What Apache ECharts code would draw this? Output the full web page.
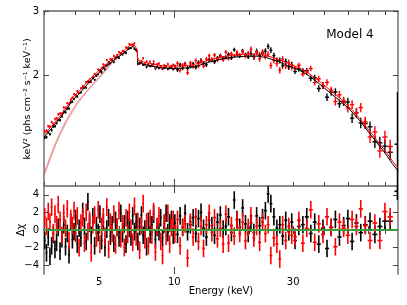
<!DOCTYPE html>
<html><head><meta charset="utf-8">
<script src="https://cdn.jsdelivr.net/npm/echarts@6/dist/echarts.min.js"></script>
<style>html,body{margin:0;padding:0;background:#fff}#c{width:407px;height:305px}</style>
</head><body><div id="c"></div>
<script>
// Bin centre energies (keV), shared by both detectors
const energy = [3.02,3.07,3.12,3.17,3.22,3.27,3.32,3.37,3.42,3.48,
 3.54,3.60,3.66,3.72,3.78,3.84,3.90,3.96,4.02,4.08,
 4.15,4.22,4.29,4.36,4.43,4.50,4.57,4.64,4.71,4.79,
 4.87,4.95,5.03,5.11,5.19,5.27,5.36,5.45,5.54,5.63,
 5.72,5.81,5.90,6.00,6.10,6.20,6.30,6.40,6.50,6.60,
 6.70,6.81,6.92,7.03,7.14,7.26,7.38,7.50,7.62,7.74,
 7.87,8.00,8.13,8.26,8.40,8.54,8.68,8.82,8.97,9.12,
 9.27,9.42,9.58,9.74,9.90,
 10.05,10.3,10.55,10.8,11.05,11.3,11.6,11.9,12.2,12.5,
 12.8,13.1,13.45,13.8,14.15,14.5,14.9,15.3,15.7,16.1,
 16.5,16.95,17.4,17.85,18.3,18.8,19.3,19.8,20.3,20.85,
 21.4,22.0,22.6,23.2,23.8,24.4,25.1,25.8,26.5,27.2,
 28.0,28.8,29.6,
 30.5,31.6,32.8,34.0,35.3,36.6,38.0,39.5,41.0,42.6,
 44.3,46.0,47.8,49.7,51.7,53.8,56.0,58.4,61.0,63.8,
 66.8,70.0,73.5];
const fluxBlack = [1.356,1.359,1.400,1.384,1.418,1.454,1.454,1.483,1.514,1.511,
 1.548,1.597,1.587,1.625,1.626,1.691,1.697,1.728,1.766,1.751,
 1.792,1.799,1.855,1.855,1.854,1.928,1.920,1.923,1.968,1.948,
 1.996,2.016,2.069,2.041,2.104,2.078,2.132,2.172,2.159,2.200,
 2.176,2.238,2.245,2.236,2.300,2.284,2.321,2.304,2.369,2.373,
 2.377,2.426,2.367,2.344,2.149,2.166,2.177,2.140,2.142,2.110,
 2.146,2.122,2.130,2.149,2.092,2.115,2.097,2.122,2.086,2.101,
 2.120,2.085,2.103,2.109,2.080,
 2.114,2.075,2.138,2.099,2.152,2.094,2.123,2.152,2.108,2.169,
 2.200,2.161,2.141,2.208,2.205,2.182,2.232,2.266,2.228,2.242,
 2.285,2.236,2.352,2.286,2.264,2.335,2.281,2.248,2.294,2.247,
 2.327,2.271,2.304,2.332,2.402,2.346,2.268,2.198,2.200,2.131,
 2.186,2.112,2.138,
 2.052,2.083,2.060,2.063,1.966,1.973,1.844,1.878,1.746,1.802,
 1.805,1.676,1.697,1.694,1.530,1.583,1.486,1.480,1.450,1.320,
 1.311,1.284,1.236];
const fluxRed = [1.409,1.416,1.456,1.452,1.493,1.478,1.524,1.530,1.568,1.576,
 1.576,1.637,1.636,1.683,1.671,1.721,1.742,1.782,1.771,1.816,
 1.793,1.847,1.874,1.860,1.922,1.916,1.952,1.928,1.986,2.020,
 2.009,2.078,2.045,2.097,2.145,2.131,2.204,2.147,2.217,2.217,
 2.262,2.226,2.279,2.319,2.288,2.335,2.313,2.387,2.377,2.438,
 2.429,2.414,2.449,2.352,2.219,2.155,2.190,2.230,2.154,2.186,
 2.133,2.183,2.142,2.186,2.102,2.148,2.158,2.111,2.086,2.134,
 2.110,2.151,2.095,2.126,2.140,
 2.108,2.159,2.069,2.132,2.149,2.037,2.165,2.119,2.198,2.124,
 2.185,2.125,2.216,2.265,2.214,2.275,2.208,2.254,2.210,2.317,
 2.228,2.293,2.262,2.316,2.276,2.320,2.257,2.302,2.360,2.255,
 2.310,2.224,2.316,2.256,2.288,2.131,2.200,2.156,2.069,2.218,
 2.123,2.170,2.108,
 2.093,2.135,2.018,2.045,2.091,1.915,1.959,1.876,1.916,1.827,
 1.700,1.773,1.707,1.631,1.667,1.586,1.636,1.495,1.360,1.404,
 1.246,1.360,1.281];
const fluxErr = [0.012,0.012,0.012,0.012,0.012,0.012,0.012,0.012,0.012,0.012,
 0.012,0.012,0.012,0.012,0.012,0.012,0.012,0.012,0.012,0.012,
 0.012,0.012,0.012,0.012,0.012,0.012,0.012,0.012,0.012,0.012,
 0.012,0.012,0.016,0.016,0.016,0.016,0.016,0.016,0.016,0.016,
 0.016,0.016,0.016,0.016,0.016,0.016,0.016,0.016,0.016,0.016,
 0.016,0.016,0.016,0.016,0.016,0.016,0.016,0.016,0.016,0.016,
 0.016,0.016,0.016,0.016,0.016,0.016,0.016,0.016,0.016,0.016,
 0.016,0.016,0.016,0.016,0.016,
 0.030,0.030,0.030,0.030,0.030,0.030,0.030,0.030,0.030,0.030,
 0.030,0.030,0.030,0.030,0.030,0.030,0.030,0.030,0.030,0.030,
 0.030,0.030,0.030,0.030,0.030,0.030,0.030,0.030,0.042,0.042,
 0.042,0.042,0.042,0.042,0.042,0.042,0.042,0.042,0.042,0.042,
 0.042,0.042,0.042,
 0.032,0.033,0.034,0.035,0.036,0.037,0.038,0.039,0.040,0.041,
 0.042,0.043,0.044,0.045,0.046,0.047,0.048,0.050,0.050,0.050,
 0.052,0.054,0.056];
const residBlack = [-1.2,-2.6,-0.8,-3.0,-1.8,-0.5,-2.2,-1.4,0.3,-2.4,
 -1.0,0.6,-1.9,-0.4,-2.8,0.9,-1.1,-0.2,1.3,-1.6,
 0.2,-0.9,2.1,0.4,-1.3,3.2,0.8,-0.6,1.5,-1.8,
 0.5,-0.3,1.8,-1.2,0.9,-2.0,0.1,1.4,-0.7,0.6,
 -1.5,1.1,0.3,-0.9,1.9,-0.4,0.7,-1.6,1.2,0.2,
 -0.8,1.6,-0.2,0.9,-1.3,0.4,1.7,-0.6,0.1,-1.9,
 1.0,-0.5,0.6,1.8,-1.1,0.3,-0.2,1.4,-0.9,0.7,
 1.9,-0.3,0.8,1.2,-0.6,
 0.8,-0.5,1.6,0.3,1.9,-0.2,0.6,1.4,-0.4,1.3,
 2.0,0.2,-0.8,1.1,0.5,-0.6,0.9,1.7,0.1,0.4,
 1.5,-0.3,3.4,1.2,0.3,2.5,0.7,-0.4,0.8,-0.3,
 1.6,0.5,1.4,2.2,4.1,3.0,1.5,0.2,0.6,-0.7,
 1.1,-0.2,0.9,
 -1.2,0.4,0.6,1.5,-0.4,0.9,-1.6,0.2,-2.1,0.3,
 1.2,-0.8,0.5,1.3,-1.3,0.8,-0.3,0.6,1.0,-0.5,
 0.4,1.0,1.0];
const residRed = [1.5,0.4,2.1,0.9,2.6,-0.3,1.8,0.6,2.9,1.1,
 -0.6,1.9,0.2,2.4,-1.2,1.3,0.5,2.2,-0.4,1.6,
 -2.0,0.8,1.4,-1.5,2.0,-0.2,1.1,-2.6,0.6,1.7,
 -0.9,2.3,-1.6,0.4,1.5,-0.7,2.6,-2.2,0.9,-0.4,
 1.8,-1.7,0.3,2.2,-1.0,0.7,-2.0,1.4,-0.5,2.0,
 0.2,-1.4,2.7,-0.8,1.0,-2.3,0.5,3.0,-1.1,0.9,
 -1.8,1.3,-0.6,2.1,-2.5,0.4,1.6,-1.3,-2.9,0.8,
 -0.7,1.9,-1.6,0.3,1.2,
 -0.5,1.2,-1.8,0.3,0.7,-3.2,0.9,-0.8,1.5,-1.3,
 0.4,-2.1,0.6,1.9,-0.3,1.4,-1.0,0.2,-1.6,1.8,
 -1.5,0.5,-0.7,1.1,-0.4,0.9,-1.2,0.3,1.6,-0.9,
 0.4,-1.4,0.9,-0.4,0.6,-2.9,-0.9,-1.6,-3.3,0.6,
 -1.2,0.4,-0.6,
 -0.8,1.1,-1.5,0.2,2.3,-1.4,0.7,-0.5,1.5,0.3,
 -1.9,0.9,0.2,-0.6,1.2,0.4,2.4,0.5,-1.2,0.8,
 -1.2,2.1,1.5];
// last (edge) black bin
const edgeEnergy = [78.6];
const edgeFlux = [1.30];
const edgeFluxErr = [0.50];
const edgeResid = [4.4];

// Model curves
const modelE = [3.0,3.2,3.45,3.7,3.9,4.2,4.56,5.0,5.33,5.7,6.18,6.5,6.72,6.85,7.0,7.11,7.12,7.5,7.94,8.8,9.8,11.5,12.5,14.2,16.6,19.5,21.5,23.4,26.4,28.5,31.8,35,38.2,42,46,50,55.3,62.4,70,75,79];
const modelBlack = [1.36,1.43,1.52,1.62,1.71,1.80,1.92,2.04,2.12,2.20,2.29,2.35,2.39,2.40,2.35,2.31,2.17,2.15,2.13,2.10,2.09,2.10,2.13,2.19,2.24,2.26,2.26,2.24,2.18,2.13,2.07,1.99,1.90,1.80,1.71,1.63,1.51,1.36,1.23,1.15,1.10];
const modelRed = [1.38,1.45,1.54,1.64,1.74,1.83,1.95,2.07,2.15,2.23,2.32,2.39,2.43,2.44,2.39,2.35,2.20,2.18,2.16,2.13,2.12,2.13,2.16,2.22,2.27,2.29,2.29,2.27,2.21,2.16,2.10,2.02,1.93,1.83,1.74,1.65,1.53,1.38,1.25,1.17,1.12];
const compE = [3.0,3.1,3.2,3.35,3.5,3.7,3.9,4.1,4.4,4.7,5.0,5.3,5.6,5.9,6.2];
const compRed = [1.08,1.15,1.22,1.32,1.41,1.52,1.61,1.70,1.80,1.90,1.98,2.08,2.17,2.24,2.30];
const compDark = [1.07,1.13,1.20,1.30,1.39,1.50,1.59,1.68,1.79,1.88,1.97,2.06,2.16,2.23,2.29];

// Axis ticks
const xMinorTicks = [3,4,5,6,7,8,9,20,30,40,50,60,70];
const xMajorTicks = [10];
const xTickLabels = [5,10,30];
const fluxTicks = [2,3];
const residTicks = [-4,-2,0,2,4];

const FONT = 'DejaVu Sans';
const AXC = '#8a8a8a', TKC = '#444';

function binEdges(E){
  const lo=[],hi=[];
  for(let i=0;i<E.length;i++){
    const prev = i>0?E[i-1]:E[i]*E[i]/E[i+1];
    const next = i<E.length-1?E[i+1]:E[i]*E[i]/E[i-1];
    lo.push(Math.sqrt(prev*E[i])); hi.push(Math.sqrt(next*E[i]));
  }
  return [lo,hi];
}
const [eLo,eHi] = binEdges(energy);
function fluxData(f, err){ return energy.map((e,i)=>[e,f[i],eLo[i],eHi[i],f[i]-err[i],f[i]+err[i]]); }
function resData(r){ return energy.map((e,i)=>[e,r[i],eLo[i],eHi[i],r[i]-1,r[i]+1]); }
const edgeFluxData = edgeEnergy.map((e,i)=>[e,edgeFlux[i],76.5,80.5,edgeFlux[i]-edgeFluxErr[i],edgeFlux[i]+edgeFluxErr[i]]);
const edgeResData = edgeEnergy.map((e,i)=>[e,edgeResid[i],76.5,80.5,edgeResid[i]-1,edgeResid[i]+1]);

function errRender(color, lw){
  return function(params, api){
    const e=api.value(0), v=api.value(1), xl=api.value(2), xh=api.value(3), yl=api.value(4), yh=api.value(5);
    const a=api.coord([xl,v]), b=api.coord([xh,v]), c=api.coord([e,yl]), d=api.coord([e,yh]);
    return {type:'group', children:[
      {type:'line', shape:{x1:a[0],y1:a[1],x2:b[0],y2:b[1]}, style:{stroke:color,lineWidth:lw}},
      {type:'line', shape:{x1:c[0],y1:c[1],x2:d[0],y2:d[1]}, style:{stroke:color,lineWidth:lw}}
    ]};
  };
}

function xAx(grid, pos, ticks, len, showLine, labels){
  return {
    type:'log', logBase:10, gridIndex:grid, position:pos, min:3, max:79,
    axisLine:{show:showLine, lineStyle:{color:AXC, width:1.8}},
    axisTick:{show:true, inside:true, length:len, customValues:ticks, lineStyle:{color:TKC, width:1}},
    axisLabel: labels ? {show:true, customValues:labels, color:'#000', fontFamily:FONT, fontSize:10, margin:3} : {show:false},
    splitLine:{show:false}, minorTick:{show:false}, minorSplitLine:{show:false}
  };
}
function yAxLog(pos, labels){
  return {type:'log', logBase:10, gridIndex:0, position:pos, min:1, max:3,
    axisLine:{show:true, lineStyle:{color:AXC, width:1.8}},
    axisTick:{show:true, inside:true, length:5, customValues:fluxTicks, lineStyle:{color:TKC}},
    axisLabel: labels ? {show:true, customValues:fluxTicks, color:'#000', fontFamily:FONT, fontSize:10, margin:5} : {show:false},
    splitLine:{show:false}};
}
function yAxRes(pos, labels){
  return {type:'value', gridIndex:1, position:pos, min:-5, max:5,
    axisLine:{show:true, lineStyle:{color:AXC, width:1.8}},
    axisTick:{show:true, inside:true, length:5, customValues:residTicks, lineStyle:{color:TKC}},
    axisLabel: labels ? {show:true, customValues:residTicks, color:'#000', fontFamily:FONT, fontSize:10, margin:5,
      formatter:v=>String(v).replace('-','\u2212')} : {show:false},
    splitLine:{show:false}};
}

const chart = echarts.init(document.getElementById('c'), null, {renderer:'canvas'});
chart.setOption({
  animation:false,
  backgroundColor:'#fff',
  grid:[{left:44,right:9,top:11,height:175},{left:44,right:9,top:186,height:88}],
  xAxis:[
    xAx(0,'bottom',xMinorTicks,4,true,null),
    xAx(0,'top',xMinorTicks,4,true,null),
    xAx(0,'bottom',xMajorTicks,7,false,null),
    xAx(0,'top',xMajorTicks,7,false,null),
    xAx(1,'bottom',xMinorTicks,4,true,xTickLabels),
    xAx(1,'top',xMinorTicks,4,true,null),
    xAx(1,'bottom',xMajorTicks,7,false,null),
    xAx(1,'top',xMajorTicks,7,false,null)
  ],
  yAxis:[yAxLog('left',true), yAxLog('right',false), yAxRes('left',true), yAxRes('right',false)],
  series:[
    {type:'custom', xAxisIndex:0, yAxisIndex:0, clip:true, renderItem:errRender('#000',1.4), data:fluxData(fluxBlack,fluxErr).concat(edgeFluxData), encode:{x:0,y:1}, z:2},
    {type:'custom', xAxisIndex:0, yAxisIndex:0, clip:true, renderItem:errRender('#ff0000',1.4), data:fluxData(fluxRed,fluxErr), encode:{x:0,y:1}, z:3},
    {type:'line', xAxisIndex:0, yAxisIndex:0, data:modelE.map((e,i)=>[e,modelBlack[i]]), showSymbol:false, lineStyle:{color:'#000',width:1}, z:5},
    {type:'line', xAxisIndex:0, yAxisIndex:0, data:modelE.map((e,i)=>[e,modelRed[i]]), showSymbol:false, lineStyle:{color:'#ff0000',width:1}, z:5},
    {type:'line', xAxisIndex:0, yAxisIndex:0, data:compE.map((e,i)=>[e,compDark[i]]), showSymbol:false, lineStyle:{color:'#b06060',width:0.6}, z:4},
    {type:'line', xAxisIndex:0, yAxisIndex:0, data:compE.map((e,i)=>[e,compRed[i]]), showSymbol:false, lineStyle:{color:'#ff4040',width:0.6}, z:4},
    {type:'custom', xAxisIndex:4, yAxisIndex:2, clip:true, renderItem:errRender('#000',1.6), data:resData(residBlack).concat(edgeResData), encode:{x:0,y:1}, z:2},
    {type:'custom', xAxisIndex:4, yAxisIndex:2, clip:true, renderItem:errRender('#ff0000',1.6), data:resData(residRed), encode:{x:0,y:1}, z:3},
    {type:'line', xAxisIndex:4, yAxisIndex:2, data:[[3,0],[79,0]], showSymbol:false, lineStyle:{color:'#3c9c3c',width:2}, z:6}
  ],
  graphic:[
    {type:'text', x:350, y:35, style:{text:'Model 4', fontFamily:FONT, fontSize:12, fill:'#000', align:'center', verticalAlign:'middle'}},
    {type:'text', x:221, y:291, style:{text:'Energy (keV)', fontFamily:FONT, fontSize:10, fill:'#000', align:'center', verticalAlign:'middle'}},
    {type:'text', x:28, y:99, rotation:Math.PI/2, style:{text:'keV\u00b2 (phs cm\u207b\u00b2 s\u207b\u00b9 keV\u207b\u00b9)', fontFamily:FONT, fontSize:9.5, fill:'#000', align:'center', verticalAlign:'middle'}},
    {type:'text', x:21, y:230, rotation:Math.PI/2, style:{text:'\u0394\u03c7', fontFamily:FONT, fontSize:10, fill:'#000', align:'center', verticalAlign:'middle'}}
  ]
});
</script></body></html>
